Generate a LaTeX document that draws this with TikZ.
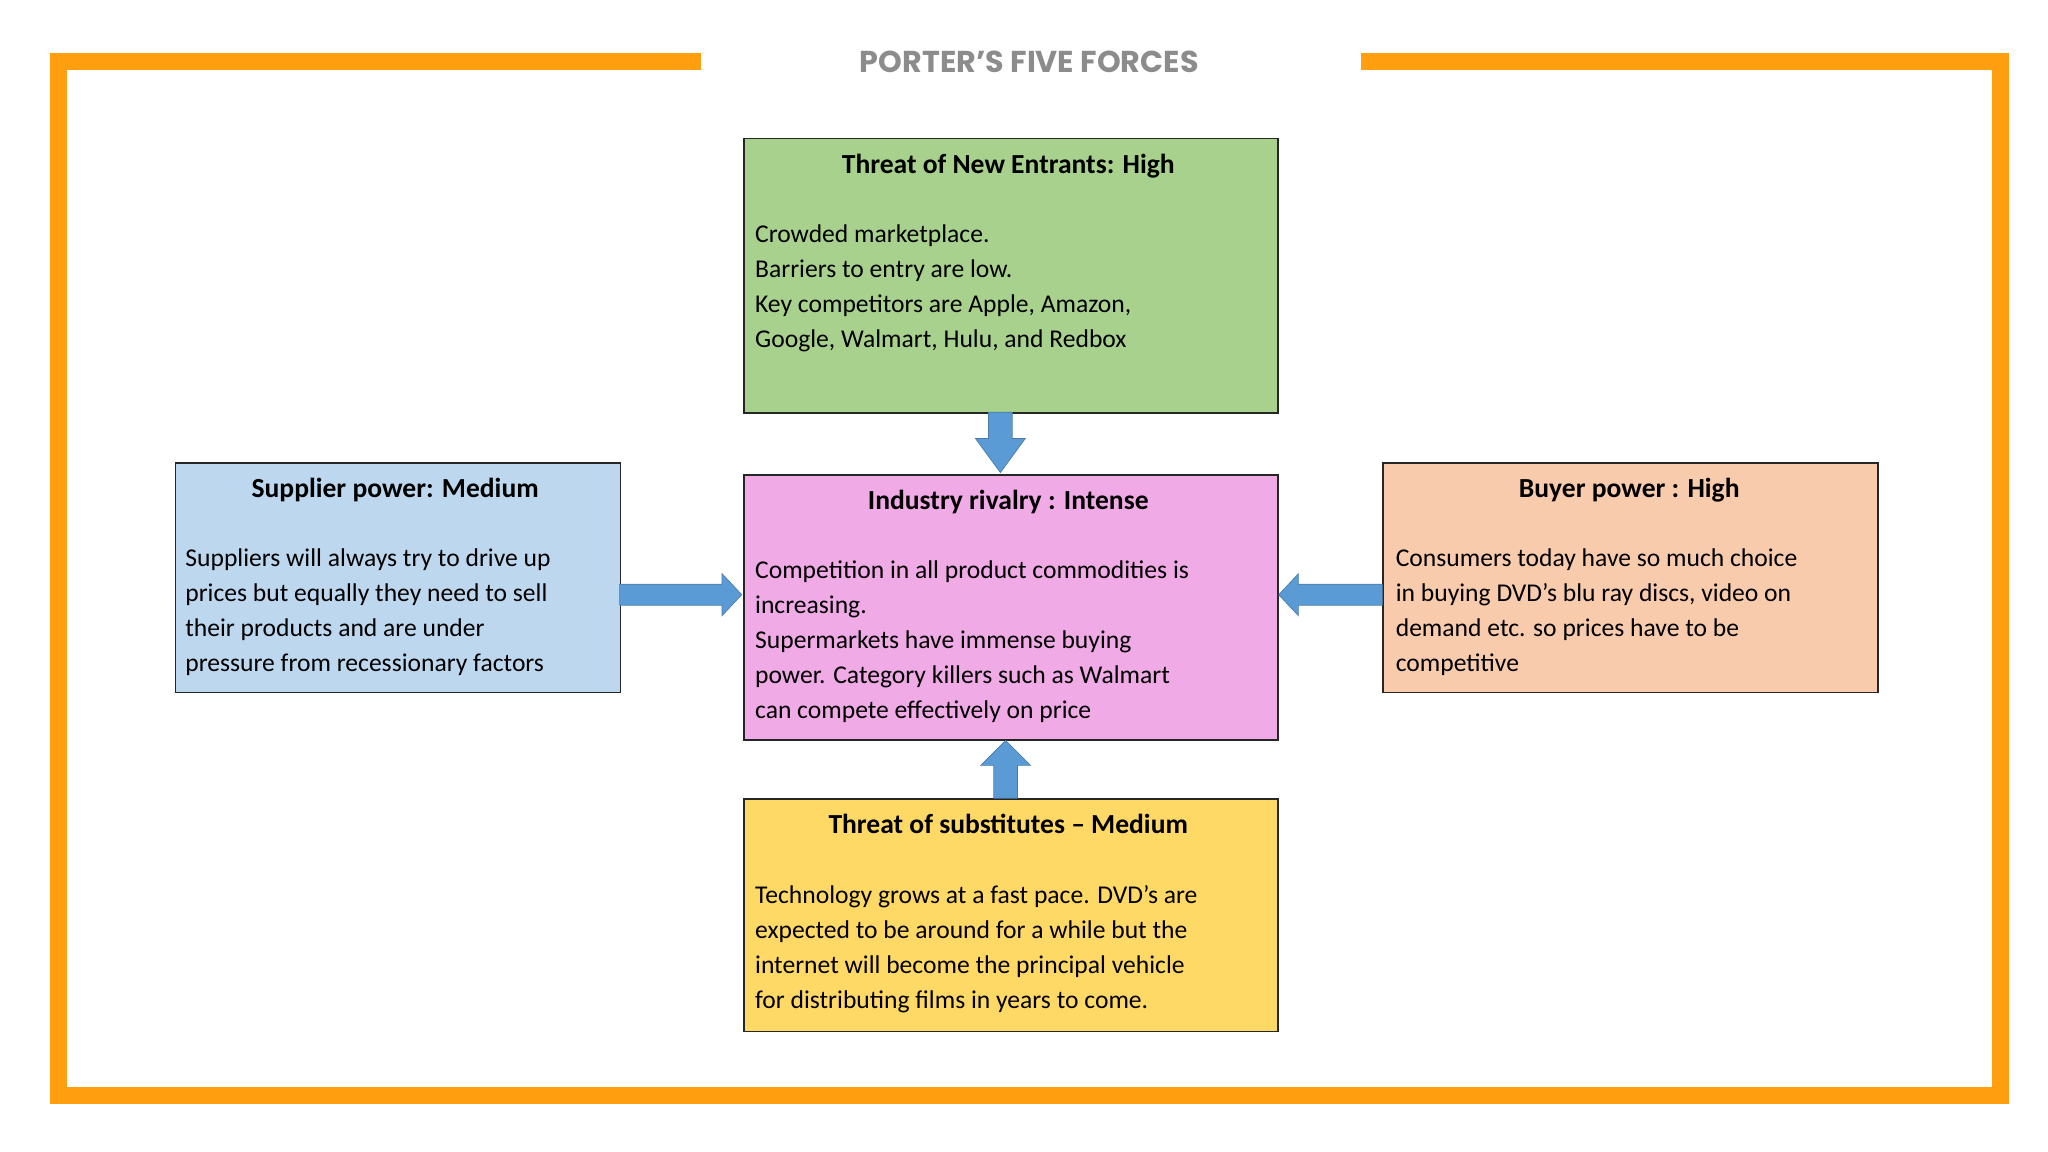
\documentclass[tikz,border=0pt]{standalone}
\usepackage{fontspec}
\setmainfont{Carlito}
\newfontfamily\titlefont{Poppins}
\usetikzlibrary{calc}
\definecolor{frameor}{HTML}{FF9E0F}
\definecolor{arrowblue}{HTML}{5B9BD5}
\definecolor{gbox}{HTML}{A9D18E}
\definecolor{pbox}{HTML}{F0AAE6}
\definecolor{bbox}{HTML}{BDD7EE}
\definecolor{obox}{HTML}{F8CBAD}
\definecolor{ybox}{HTML}{FFD966}
\begin{document}
\begin{tikzpicture}[x=1pt,y=-1pt,
  box/.style={draw=black!85,line width=1.2pt,anchor=north west,inner sep=0pt},
  head/.style={font=\fontsize{21}{24}\selectfont\bfseries,anchor=base},
  body/.style={font=\fontsize{19.5}{26.7}\selectfont,anchor=north west,align=left,inner sep=0pt},
  barrow/.style={fill=arrowblue,draw=arrowblue!80!black,line width=0.5pt}]
\useasboundingbox (0,0) rectangle (1560,877.5);
\fill[white] (0,0) rectangle (1560,877.5);
% frame
\draw[frameor,line width=13pt] (534,46.5) -- (44.5,46.5) -- (44.5,834.5) -- (1523.5,834.5) -- (1523.5,46.5) -- (1037,46.5);
\node[font=\titlefont\fontsize{23}{26}\selectfont\bfseries,text=black!45] (title) at (784,47) {PORTER’S FIVE FORCES};
% boxes
\node[box,fill=gbox,minimum width=407pt,minimum height=209pt] (g) at (566,105) {};
\node[box,fill=pbox,minimum width=407pt,minimum height=202pt] (p) at (566,361) {};
\node[box,fill=bbox,minimum width=339pt,minimum height=175pt] (b) at (133,352) {};
\node[box,fill=obox,minimum width=377pt,minimum height=175pt] (o) at (1053,352) {};
\node[box,fill=ybox,minimum width=407pt,minimum height=177pt] (y) at (566,608) {};
% headings
\node[head] (gh) at (768,132) {Threat of New Entrants: High};
\node[head] (ph) at (768,388) {Industry rivalry : Intense};
\node[head] (bh) at (301,379) {Supplier power: Medium};
\node[head] (oh) at (1241,379) {Buyer power : High};
\node[head] (yh) at (768,635) {Threat of substitutes – Medium};
% bodies
\node[body] (gt) at (575,171) {Crowded marketplace.\\Barriers to entry are low.\\Key competitors are Apple, Amazon,\\Google, Walmart, Hulu, and Redbox};
\node[body] (pt) at (575,427) {Competition in all product commodities is\\increasing.\\Supermarkets have immense buying\\power. Category killers such as Walmart\\can compete effectively on price};
\node[body] (bt) at (141,418) {Suppliers will always try to drive up\\prices but equally they need to sell\\their products and are under\\pressure from recessionary factors};
\node[body] (ot) at (1063,418) {Consumers today have so much choice\\in buying DVD’s blu ray discs, video on\\demand etc. so prices have to be\\competitive};
\node[body] (yt) at (575,674) {Technology grows at a fast pace. DVD’s are\\expected to be around for a while but the\\internet will become the principal vehicle\\for distributing films in years to come.};
% arrows
\draw[barrow] (753,314) -- (771,314) -- (771,334) -- (781,334) -- (762,360) -- (743,334) -- (753,334) -- cycle;
\draw[barrow] (757,608) -- (775,608) -- (775,583) -- (785,583) -- (766,564) -- (747,583) -- (757,583) -- cycle;
\draw[barrow] (472,445) -- (550,445) -- (550,437) -- (565,453) -- (550,469) -- (550,461) -- (472,461) -- cycle;
\draw[barrow] (1053,445) -- (989,445) -- (989,437) -- (974,453) -- (989,469) -- (989,461) -- (1053,461) -- cycle;
\end{tikzpicture}
\end{document}
